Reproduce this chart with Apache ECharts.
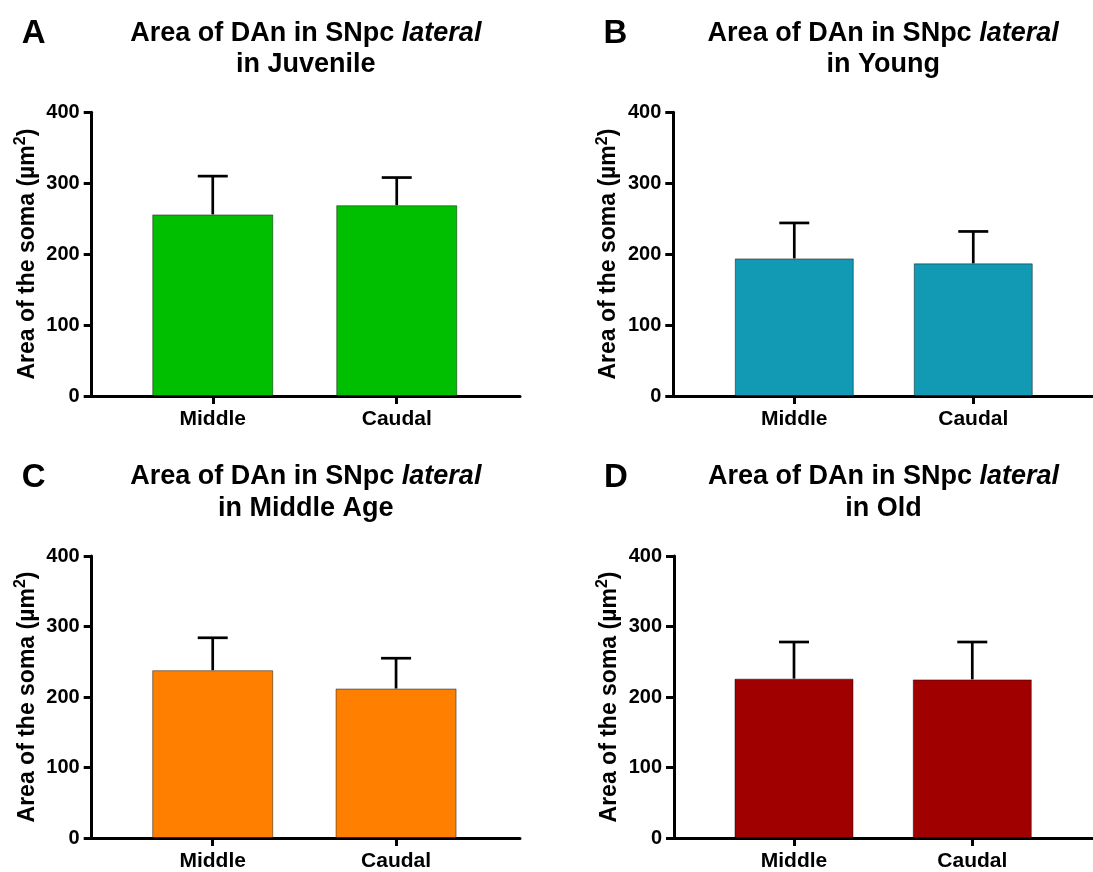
<!DOCTYPE html>
<html>
<head>
<meta charset="utf-8">
<title>Area of DAn in SNpc lateral</title>
<script src="https://cdn.jsdelivr.net/npm/echarts@6/dist/echarts.min.js"></script>
<style>
  html, body { margin: 0; padding: 0; background: #ffffff; }
  #chart { width: 1093px; height: 872px; }
</style>
</head>
<body>
<div id="chart"></div>
<script>
// Soma area (µm²) of dopaminergic neurons, lateral SNpc, per rostro-caudal level
const categories = ['Middle', 'Caudal'];
const panelLetters = ['A', 'B', 'C', 'D'];
const ageGroups = ['Juvenile', 'Young', 'Middle Age', 'Old'];

const juvenileMean = [256, 269];
const juvenileSD = [54, 39];
const youngMean = [194, 187];
const youngSD = [50, 45];
const middleAgeMean = [238, 212];
const middleAgeSD = [46, 43];
const oldMean = [226, 225];
const oldSD = [52, 53];

const yTicks = [0, 100, 200, 300, 400];
const groupColors = ['#00BF00', '#129AB4', '#FF8000', '#A00000'];

const means = [juvenileMean, youngMean, middleAgeMean, oldMean];
const sds = [juvenileSD, youngSD, middleAgeSD, oldSD];

// Panel placement (pixels) and x-range around the two category slots (0 and 1)
const layout = [
  { left: 91.7, right: 520, top: 112.3, bottom: 396, xMin: -0.658, xMax: 1.670, barW: 121 },
  { left: 673.3, right: 1093, top: 112.3, bottom: 396, xMin: -0.676, xMax: 1.669, barW: 119 },
  { left: 91.7, right: 520, top: 556, bottom: 840, xMin: -0.660, xMax: 1.676, barW: 121 },
  { left: 674, right: 1093, top: 556, bottom: 840, xMin: -0.673, xMax: 1.677, barW: 119 }
];

const FONT = '"Liberation Sans", Arial, Helvetica, sans-serif';

const grids = [], xAxes = [], yAxes = [], series = [], graphics = [];

layout.forEach((p, i) => {
  grids.push({ left: p.left, top: p.top, width: p.right - p.left, height: p.bottom - p.top, containLabel: false });

  xAxes.push({
    type: 'value', gridIndex: i, min: p.xMin, max: p.xMax,
    splitLine: { show: false },
    axisLine: { show: true, onZero: false, lineStyle: { color: '#000', width: 3 } },
    axisTick: { show: true, inside: false, length: 8, customValues: [0, 1], lineStyle: { color: '#000', width: 3 } },
    axisLabel: {
      show: true, customValues: [0, 1], margin: 13,
      formatter: v => categories[Math.round(v)] || '',
      color: '#000', fontSize: 21, fontWeight: 'bold', fontFamily: FONT
    }
  });

  yAxes.push({
    type: 'value', gridIndex: i, min: yTicks[0], max: yTicks[yTicks.length - 1], interval: yTicks[1] - yTicks[0],
    splitLine: { show: false },
    axisLine: { show: true, onZero: false, lineStyle: { color: '#000', width: 3 } },
    axisTick: { show: true, inside: false, length: 8, lineStyle: { color: '#000', width: 3 } },
    axisLabel: { margin: 12, color: '#000', fontSize: 20, fontWeight: 'bold', fontFamily: FONT },
    name: '{a|Area of the soma (µm}{s|2}{a|)}',
    nameLocation: 'middle', nameGap: 50, nameRotate: 90,
    nameTextStyle: {
      color: '#000',
      rich: {
        a: { fontSize: 23, fontWeight: 'bold', fontFamily: FONT, color: '#000', lineHeight: 29 },
        s: { fontSize: 16, fontWeight: 'bold', fontFamily: FONT, color: '#000', verticalAlign: 'top', lineHeight: 17 }
      }
    }
  });

  series.push({
    type: 'bar', xAxisIndex: i, yAxisIndex: i,
    barWidth: p.barW,
    itemStyle: { color: groupColors[i], borderColor: 'rgba(0,0,0,0.45)', borderWidth: 1 },
    data: means[i].map((m, k) => [k, m]),
    z: 2
  });

  series.push({
    type: 'custom', xAxisIndex: i, yAxisIndex: i, z: 3,
    data: means[i].map((m, k) => [k, m, sds[i][k]]),
    renderItem: (params, api) => {
      const x = api.value(0), m = api.value(1), sd = api.value(2);
      const base = api.coord([x, m]);
      const top = api.coord([x, m + sd]);
      const half = 15;
      const style = { stroke: '#000', lineWidth: 2.7 };
      return {
        type: 'group',
        children: [
          { type: 'line', shape: { x1: base[0], y1: base[1], x2: top[0], y2: top[1] }, style },
          { type: 'line', shape: { x1: top[0] - half, y1: top[1], x2: top[0] + half, y2: top[1] }, style }
        ]
      };
    }
  });

  // Panel heading, centred over the x-axis span
  const cx = (p.left + p.right) / 2;
  const ty = p.top - 79;
  graphics.push({
    type: 'text', x: cx, y: ty, z: 10,
    style: {
      text: '{b|Area of DAn in SNpc }{i|lateral}',
      align: 'center', verticalAlign: 'middle',
      rich: {
        b: { fontSize: 27, fontWeight: 'bold', fontFamily: FONT, fill: '#000' },
        i: { fontSize: 27, fontWeight: 'bold', fontStyle: 'italic', fontFamily: FONT, fill: '#000' }
      }
    }
  });
  graphics.push({
    type: 'text', x: cx, y: ty + 31.5, z: 10,
    style: {
      text: 'in ' + ageGroups[i],
      align: 'center', verticalAlign: 'middle',
      fontSize: 27, fontWeight: 'bold', fontFamily: FONT, fill: '#000'
    }
  });
  graphics.push({
    type: 'text', x: p.left - 58, y: ty + 1, z: 10,
    style: {
      text: panelLetters[i],
      align: 'center', verticalAlign: 'middle',
      fontSize: 33, fontWeight: 'bold', fontFamily: FONT, fill: '#000'
    }
  });
});

const chart = echarts.init(document.getElementById('chart'), null, { renderer: 'canvas' });
chart.setOption({
  backgroundColor: '#ffffff',
  animation: false,
  grid: grids,
  xAxis: xAxes,
  yAxis: yAxes,
  series: series,
  graphic: graphics
});
</script>
</body>
</html>
